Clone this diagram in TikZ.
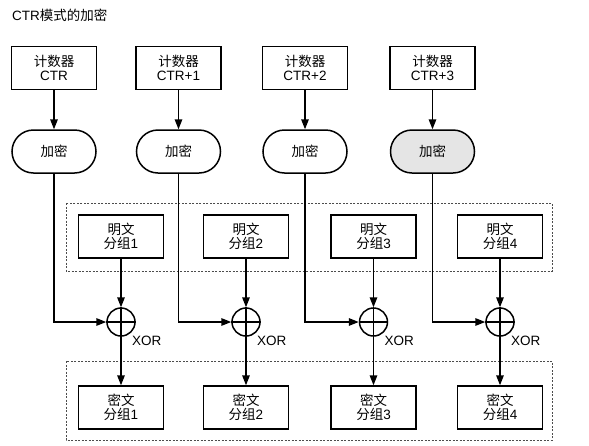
\documentclass[tikz,border=0pt]{standalone}
\usepackage{fontspec}
\setmainfont{Liberation Sans}
\newfontfamily\cjk{Noto Sans CJK SC}
\usetikzlibrary{arrows.meta}
\begin{document}
\begin{tikzpicture}[x=1pt,y=-1pt,
  every node/.style={font=\fontsize{13.5}{14.5}\selectfont, align=center},
  box/.style={draw, line width=1.5pt, minimum width=85pt, minimum height=43pt, inner sep=0pt},
  encbox/.style={draw, line width=1.5pt, minimum width=84pt, minimum height=43pt, rounded corners=21.5pt, inner sep=0pt},
  xorc/.style={draw, circle, line width=1.5pt, minimum size=28pt, inner sep=0pt},
  arr/.style={line width=1.5pt, -{Triangle[length=10pt,width=7.5pt]}},
  ln/.style={line width=1.5pt},
  grp/.style={draw=black!70, line width=0.6pt, dash pattern=on 2pt off 1.5pt},
  lbl/.style={anchor=west, inner sep=0pt}]
\useasboundingbox (0,0) rectangle (589,445);

\node[anchor=west, inner sep=0pt] (title) at (12,15) {CTR{\cjk 模式的加密}};

% dashed groups
\draw[grp] (66,203) rectangle (552,271);
\draw[grp] (66,361) rectangle (552,440);

% counters
\node[box] (c1) at (54,68) {{\cjk 计数器}\\CTR};
\node[box] (c2) at (178.5,68) {{\cjk 计数器}\\CTR+1};
\node[box] (c3) at (305,68) {{\cjk 计数器}\\CTR+2};
\node[box] (c4) at (432.5,68) {{\cjk 计数器}\\CTR+3};

% encrypt
\node[encbox] (e1) at (54,151.5) {\cjk 加密};
\node[encbox] (e2) at (178.5,151.5) {\cjk 加密};
\node[encbox] (e3) at (305,151.5) {\cjk 加密};
\node[encbox, fill=black!10] (e4) at (432.5,151.5) {\cjk 加密};

% plaintext
\node[box] (p1) at (121,236.5) {{\cjk 明文}\\{\cjk 分组}1};
\node[box] (p2) at (246,236.5) {{\cjk 明文}\\{\cjk 分组}2};
\node[box] (p3) at (373.5,236.5) {{\cjk 明文}\\{\cjk 分组}3};
\node[box] (p4) at (500,236.5) {{\cjk 明文}\\{\cjk 分组}4};

% xor
\foreach \i/\x in {1/121,2/246,3/373.5,4/500} {
  \node[xorc] (x\i) at (\x,322) {};
  \draw[ln] (x\i.north) -- (x\i.south) (x\i.west) -- (x\i.east);
  \node[lbl] (xl\i) at ([shift={(11,19)}]x\i.center) {XOR};
}

% ciphertext
\node[box] (k1) at (121,407.5) {{\cjk 密文}\\{\cjk 分组}1};
\node[box] (k2) at (246,407.5) {{\cjk 密文}\\{\cjk 分组}2};
\node[box] (k3) at (373.5,407.5) {{\cjk 密文}\\{\cjk 分组}3};
\node[box] (k4) at (500,407.5) {{\cjk 密文}\\{\cjk 分组}4};

\foreach \i in {1,2,3,4} {
  \draw[arr] (c\i) -- (e\i);
  \draw[arr] (e\i.south) |- (x\i.west);
  \draw[arr] (p\i) -- (x\i);
  \draw[arr] (x\i) -- (k\i);
}
\end{tikzpicture}
\end{document}
